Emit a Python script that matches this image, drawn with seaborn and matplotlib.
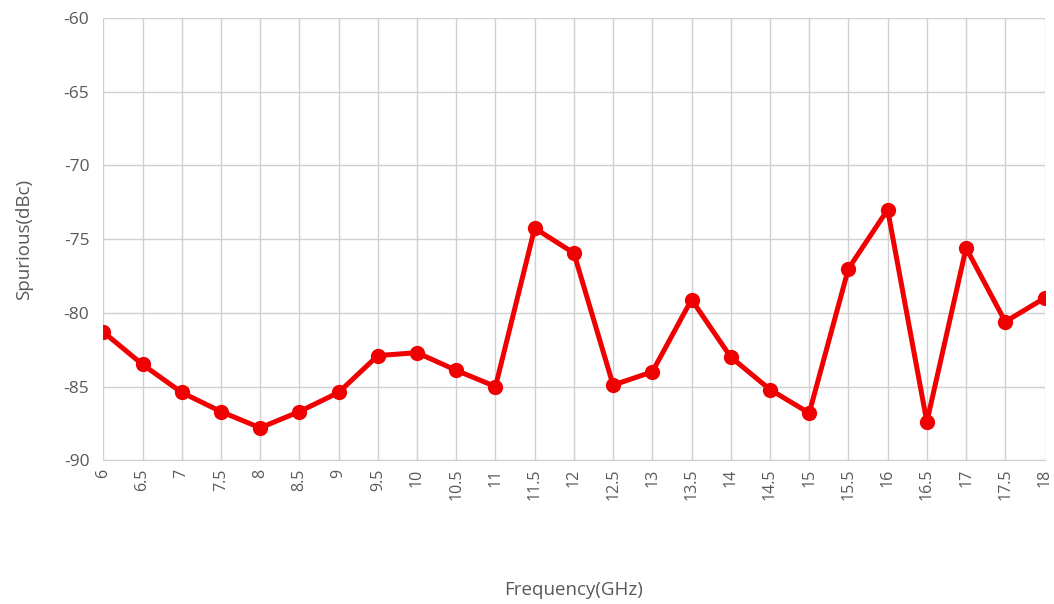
import seaborn as sns
import matplotlib.pyplot as plt

# frequencies (GHz) and measured spurious level (dBc)
freq = [6, 6.5, 7, 7.5, 8, 8.5, 9, 9.5, 10, 10.5, 11, 11.5, 12,
        12.5, 13, 13.5, 14, 14.5, 15, 15.5, 16, 16.5, 17, 17.5, 18]
spurious = [-81.3, -83.5, -85.4, -86.7, -87.8, -86.7, -85.4, -82.9, -82.7,
            -83.9, -85.0, -74.25, -75.95, -84.9, -84.0, -79.1, -83.0, -85.2,
            -86.8, -77.0, -73.0, -87.4, -75.6, -80.6, -79.0]
freq_labels = ['6', '6.5', '7', '7.5', '8', '8.5', '9', '9.5', '10', '10.5',
               '11', '11.5', '12', '12.5', '13', '13.5', '14', '14.5', '15',
               '15.5', '16', '16.5', '17', '17.5', '18']
y_ticks = [-90, -85, -80, -75, -70, -65, -60]

sns.set_style('whitegrid')
plt.rcParams['font.family'] = ['Open Sans', 'DejaVu Sans']

fig = plt.figure(figsize=(10.54, 6.04), dpi=100)
ax = fig.add_axes([0.098, 0.238, 0.893, 0.732])

sns.lineplot(x=freq, y=spurious, ax=ax, color='#f00000', linewidth=3.6,
             marker='o', markersize=11, markeredgewidth=0)

ax.set_xlim(6, 18)
ax.set_ylim(-90, -60)
ax.set_xticks(freq)
ax.set_xticklabels(freq_labels, rotation=90, fontsize=11.5, color='#595959')
ax.set_yticks(y_ticks)
ax.set_yticklabels([str(v) for v in y_ticks], fontsize=12.5, color='#595959')
ax.tick_params(axis='y', length=0, pad=10)
ax.tick_params(axis='x', length=0, pad=6)
ax.grid(True, color='#d0d0d0', linewidth=1)
for side in ['left', 'right', 'top']:
    ax.spines[side].set_visible(False)
ax.spines['bottom'].set_color('#d0d0d0')

ax.set_xlabel('Frequency(GHz)', fontsize=13.5, color='#595959', labelpad=58)
ax.set_ylabel('Spurious(dBc)', fontsize=13.5, color='#595959', labelpad=22)

plt.savefig('out.png', dpi=100)
